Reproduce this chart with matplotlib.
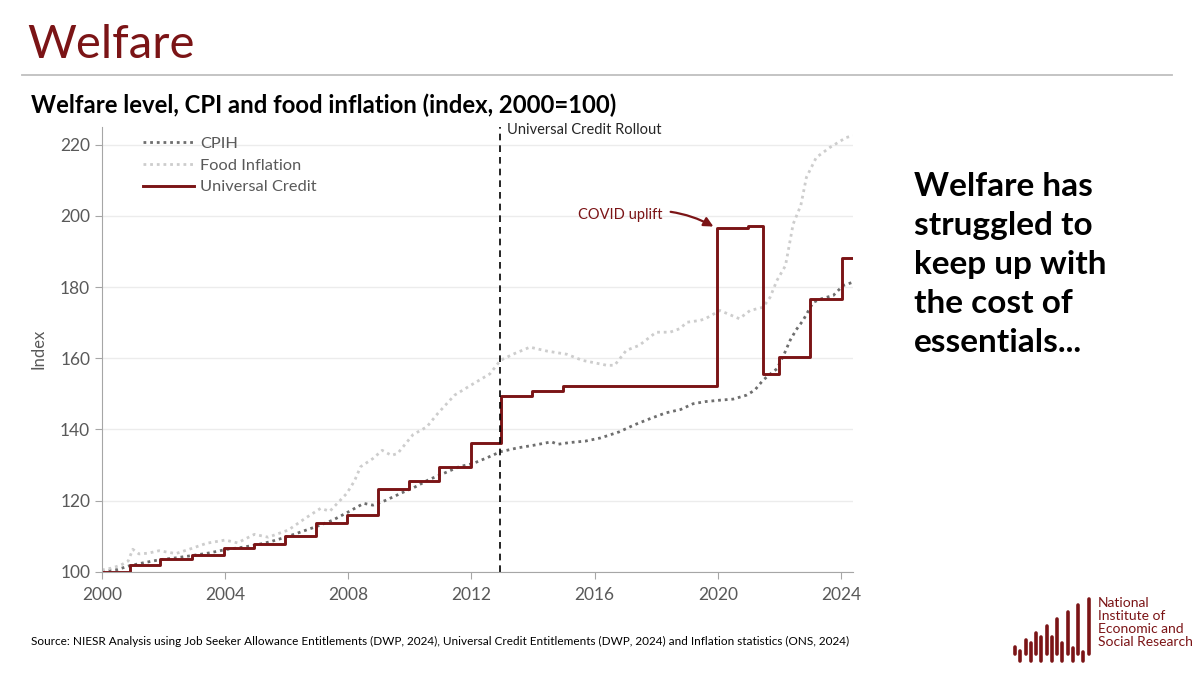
import numpy as np
import matplotlib
matplotlib.use("Agg")
import matplotlib.pyplot as plt

plt.rcParams['font.family'] = ['Lato', 'DejaVu Sans']

DARK_RED = '#7b1416'
GREY_TXT = '#595959'

# Universal Credit step changes (year, index)
uc_year = [2000.0, 2000.9, 2001.9, 2002.93, 2003.95, 2004.95, 2005.95, 2006.95, 2007.95,
           2008.96, 2009.96, 2010.96, 2011.97, 2012.96, 2013.97, 2014.98, 2019.97, 2020.98,
           2021.47, 2022.0, 2023.0, 2024.04, 2024.38]
uc_val = [100.0, 101.8, 103.5, 104.8, 106.7, 107.8, 110.1, 113.6, 116.0,
          123.3, 125.5, 129.3, 136.2, 149.3, 150.7, 152.3, 196.5, 197.1,
          155.6, 160.4, 176.5, 188.2, 188.2]

cpih_year = [2000.0, 2000.5, 2000.9, 2001.4, 2001.9, 2002.4, 2002.9, 2003.5, 2004.0, 2004.5,
             2005.0, 2005.5, 2006.0, 2006.5, 2007.0, 2007.5, 2008.0, 2008.5, 2008.8, 2009.2,
             2009.9, 2010.1, 2010.6, 2011.2, 2011.6, 2012.05, 2012.5, 2012.94, 2013.5, 2014.0,
             2014.6, 2014.8, 2015.2, 2015.7, 2016.2, 2016.8, 2017.3, 2017.8, 2018.3, 2018.8,
             2019.2, 2019.6, 2020.07, 2020.5, 2020.93, 2021.2, 2021.47, 2021.7, 2021.92, 2022.15,
             2022.35, 2022.55, 2022.77, 2023.1, 2023.4, 2023.75, 2024.07, 2024.37]
cpih_val = [100.0, 100.6, 101.7, 102.6, 103.4, 103.9, 104.5, 105.3, 106.2, 106.8,
            107.5, 108.5, 109.8, 111.3, 112.8, 114.5, 116.8, 119.2, 118.7, 120.0,
            122.8, 123.5, 125.8, 128.0, 129.5, 130.4, 132.0, 133.7, 134.8, 135.5,
            136.5, 135.8, 136.3, 136.7, 137.6, 139.3, 141.3, 143.0, 144.6, 145.6,
            147.2, 147.8, 148.2, 148.5, 149.6, 151.0, 153.8, 155.5, 157.0, 161.0,
            165.0, 168.0, 170.6, 175.7, 176.8, 177.6, 180.4, 181.3]

food_year = [2000.0, 2000.3, 2000.6, 2000.85, 2001.0, 2001.2, 2001.5, 2001.85, 2002.4, 2002.9,
             2003.4, 2004.0, 2004.4, 2004.95, 2005.4, 2006.05, 2006.6, 2007.1, 2007.4, 2007.95,
             2008.2, 2008.4, 2008.8, 2009.1, 2009.4, 2009.6, 2010.1, 2010.55, 2010.9, 2011.45,
             2011.98, 2012.6, 2012.94, 2013.4, 2013.9, 2014.45, 2015.1, 2015.6, 2016.4, 2016.65,
             2017.03, 2017.45, 2018.0, 2018.45, 2018.77, 2019.0, 2019.42, 2019.6, 2020.07, 2020.7,
             2021.05, 2021.47, 2021.7, 2021.92, 2022.2, 2022.45, 2022.7, 2022.88, 2023.2, 2023.64,
             2024.17, 2024.39]
food_val = [100.5, 101.0, 101.8, 103.0, 106.3, 105.0, 105.2, 105.9, 105.1, 106.5,
            108.0, 108.9, 108.1, 110.5, 109.7, 111.7, 115.0, 117.8, 117.0, 122.0,
            125.5, 129.5, 131.8, 134.1, 132.7, 133.2, 138.5, 140.7, 144.4, 149.6,
            152.4, 155.6, 159.4, 161.3, 163.1, 162.0, 161.1, 159.4, 158.0, 158.0,
            162.2, 163.6, 167.3, 167.3, 168.3, 170.1, 170.6, 171.1, 173.4, 171.1,
            173.4, 174.3, 177.1, 181.8, 186.0, 197.7, 203.0, 210.8, 216.4, 219.2,
            222.0, 222.5]

x_ticks = [2000, 2004, 2008, 2012, 2016, 2020, 2024]
y_ticks = [100, 120, 140, 160, 180, 200, 220]
rollout_year = 2012.92

fig = plt.figure(figsize=(12, 6.73), dpi=100)

# header
fig.text(0.023, 0.933, "Welfare", fontsize=34, color=DARK_RED, va='center', ha='left')
fig.add_artist(plt.Line2D([0.018, 0.977], [0.889, 0.889], color='#bfbfbf', lw=1.3))
fig.text(0.026, 0.843, "Welfare level, CPI and food inflation (index, 2000=100)",
         fontsize=17.2, fontweight='bold', color='black', va='center', ha='left')

ax = fig.add_axes([0.085, 0.1505, 0.626, 0.661])
ax.plot(cpih_year, cpih_val, color='#6e6e6e', lw=2, ls=(0, (1, 1.4)), label='CPIH')
ax.plot(food_year, food_val, color='#cdcdcd', lw=2, ls=(0, (1, 1.4)), label='Food Inflation')
ax.step(uc_year, uc_val, where='post', color=DARK_RED, lw=2.1, label='Universal Credit')

ax.axvline(rollout_year, color='black', lw=1.2, ls=(0, (4, 3)), clip_on=False)
ax.text(rollout_year + 0.25, 224.2, "Universal Credit Rollout", fontsize=10.5, color='#262626',
        ha='left', va='center')

ax.annotate("COVID uplift", xy=(2019.9, 196.8), xytext=(2018.2, 200.3),
            fontsize=10.5, color=DARK_RED, ha='right', va='center',
            arrowprops=dict(arrowstyle='-|>', color=DARK_RED, lw=1.6, mutation_scale=14,
                            connectionstyle='arc3,rad=-0.2', shrinkA=4, shrinkB=1))

ax.set_xlim(2000, 2024.4)
ax.set_ylim(100, 225)
ax.set_xticks(x_ticks)
ax.set_yticks(y_ticks)
ax.tick_params(axis='both', labelsize=12.5, colors='#a6a6a6', labelcolor=GREY_TXT, length=5)
ax.tick_params(axis='x', pad=6)
ax.grid(axis='y', color='#ececec', lw=1)
ax.set_axisbelow(True)
for side in ['top', 'right']:
    ax.spines[side].set_visible(False)
for side in ['left', 'bottom']:
    ax.spines[side].set_color('#a6a6a6')
ax.set_ylabel("Index", fontsize=12, color=GREY_TXT, labelpad=10)

leg = ax.legend(loc='upper left', bbox_to_anchor=(0.035, 1.012), frameon=False, fontsize=11.8,
                handlelength=3.1, labelspacing=0.45, handletextpad=0.4)
for t in leg.get_texts():
    t.set_color(GREY_TXT)

# right-hand message
fig.text(0.762, 0.745, "Welfare has\nstruggled to\nkeep up with\nthe cost of\nessentials...",
         fontsize=24, fontweight='bold', color='black', ha='left', va='top', linespacing=1.42)

fig.text(0.026, 0.047,
         "Source: NIESR Analysis using Job Seeker Allowance Entitlements (DWP, 2024), "
         "Universal Credit Entitlements (DWP, 2024) and Inflation statistics (ONS, 2024)",
         fontsize=8.5, color='black', ha='left', va='center')

# NIESR logo
logo = fig.add_axes([0, 0, 1, 1], zorder=-1)
logo.set_xlim(0, 1200)
logo.set_ylim(673, 0)
logo.axis('off')
bar_x = 1015 + np.arange(15) * 5.25
bar_top = [647, 651, 640, 643, 633, 637, 626, 637, 619, 643, 612, 648, 605, 652, 599]
for i, (bx, bt) in enumerate(zip(bar_x, bar_top)):
    bb = 654 if i % 2 == 0 else 661
    logo.plot([bx, bx], [bt, bb], color=DARK_RED, lw=2.6, solid_capstyle='round')
fig.text(0.915, 0.075, "National\nInstitute of\nEconomic and\nSocial Research", fontsize=10,
         color=DARK_RED, ha='left', va='center', linespacing=1.1)

fig.savefig("out.png", dpi=100)
